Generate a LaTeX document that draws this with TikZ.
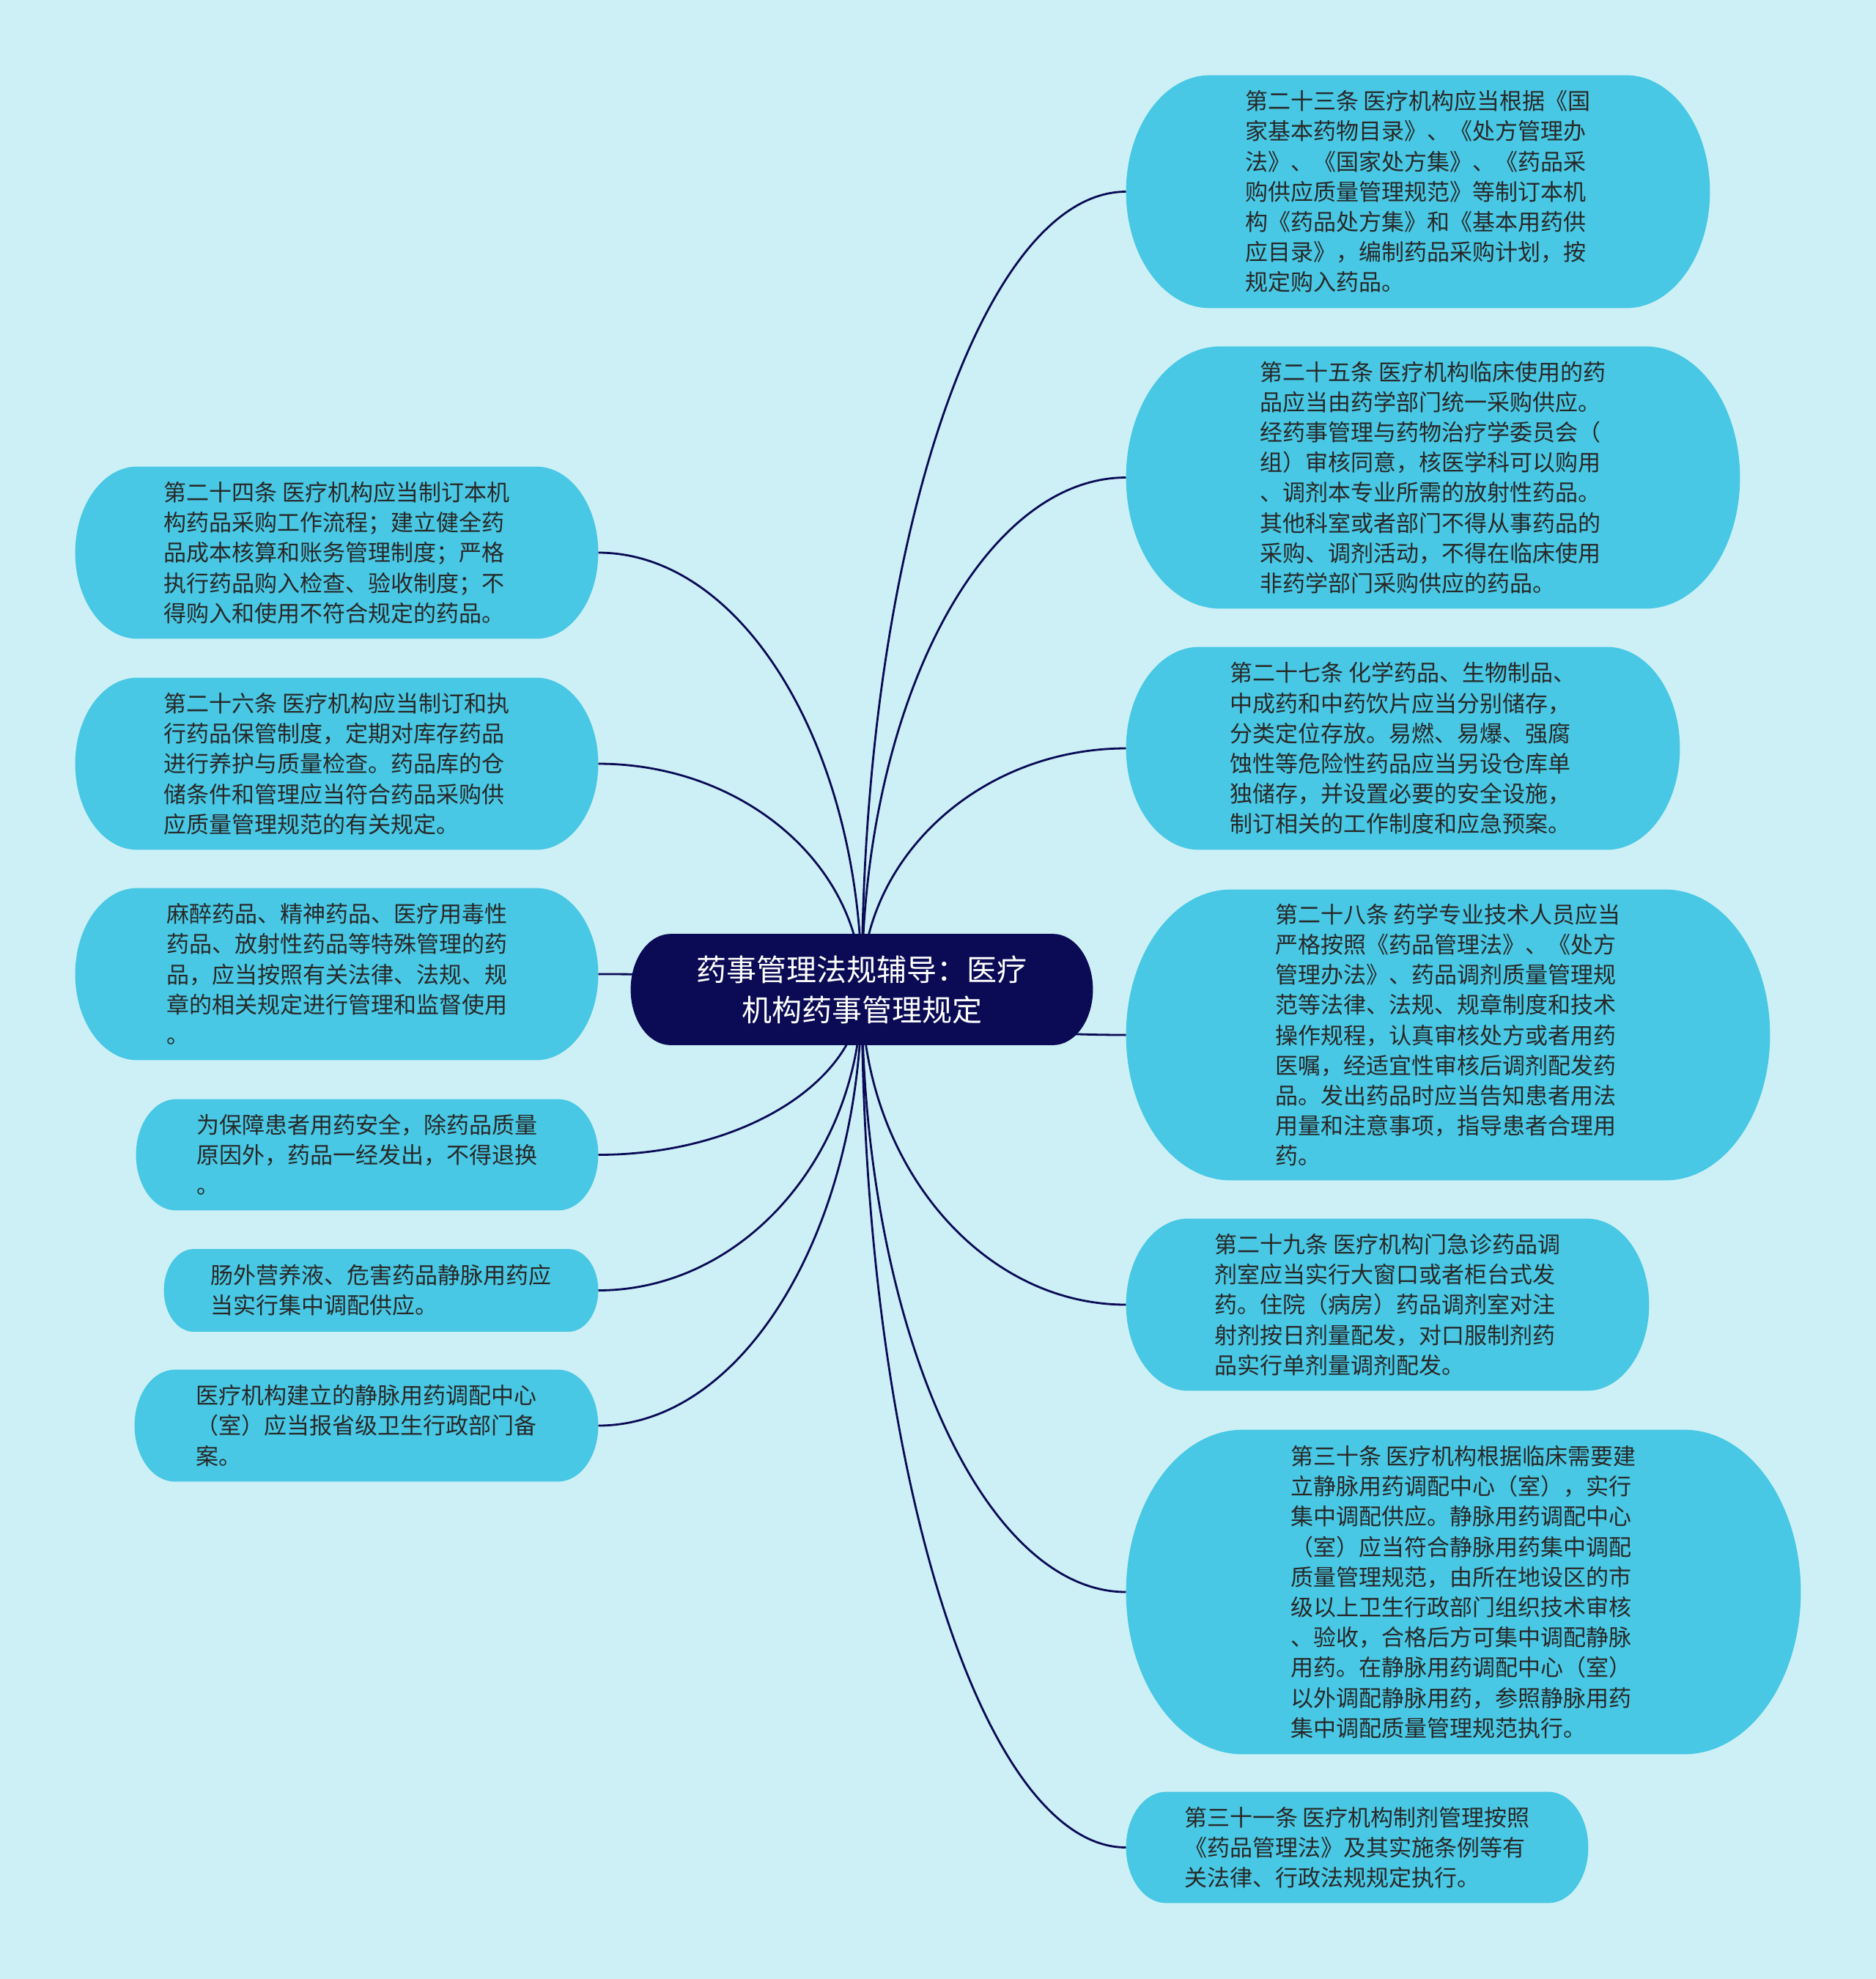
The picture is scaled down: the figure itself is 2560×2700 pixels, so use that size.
\documentclass[tikz,border=0pt]{standalone}
\usepackage{fontspec}
\setmainfont{Noto Sans CJK SC}
\usepackage{tikz}
\usetikzlibrary{calc}
\definecolor{PaperCyan}{RGB}{205,240,247}
\definecolor{LeafCyan}{RGB}{72,200,228}
\definecolor{HubNavy}{RGB}{10,10,85}
\definecolor{InkGray}{RGB}{40,40,40}
\pgfdeclarelayer{bg}
\pgfdeclarelayer{pills}
\pgfsetlayers{bg,pills,main}
% pill behind a node: straight top and bottom, half-ellipse ends
\newcommand\pillfill[2][LeafCyan]{%
  \fill[#1] let \p1=(#2.north west), \p2=(#2.south east),
    \n1={0.5*(\y1-\y2)}, \n2={0.36*(\y1-\y2)} in
    (\x2-\n2,\y1) arc[start angle=90,end angle=-90,x radius=\n2,y radius=\n1]
    -- (\x1+\n2,\y2) arc[start angle=270,end angle=90,x radius=\n2,y radius=\n1]
    -- cycle;}

\begin{document}
\begin{tikzpicture}[
        x=0.5pt,y=-0.5pt,
        leaf/.style={text=InkGray,align=left,inner sep=2pt,
          font=\fontsize{15.5pt}{20.6pt}\selectfont},
        hub/.style={text=white,align=center,inner sep=2pt,
          font=\fontsize{20.5pt}{27.5pt}\selectfont},
        link/.style={draw=HubNavy,line width=1.4pt}]
        \useasboundingbox (0,0) rectangle (2560,2700);
        \node[hub,minimum width=315pt,minimum height=75.5pt] (hub) at (1176,1350)
          {药事管理法规辅导：医疗\\机构药事管理规定};
        \node[leaf,minimum width=398pt,minimum height=158.5pt] (r1) at (1935,261.5)
          {第二十三条 医疗机构应当根据《国\\家基本药物目录》、《处方管理办\\法》、《国家处方集》、《药品采\\购供应质量管理规范》等制订本机\\构《药品处方集》和《基本用药供\\应目录》，编制药品采购计划，按\\规定购入药品。};
        \node[leaf,minimum width=418.5pt,minimum height=178.5pt] (r2) at (1955.5,651.5)
          {第二十五条 医疗机构临床使用的药\\品应当由药学部门统一采购供应。\\经药事管理与药物治疗学委员会（\\组）审核同意，核医学科可以购用\\、调剂本专业所需的放射性药品。\\其他科室或者部门不得从事药品的\\采购、调剂活动，不得在临床使用\\非药学部门采购供应的药品。};
        \node[leaf,minimum width=377.5pt,minimum height=138pt] (r3) at (1914.5,1021)
          {第二十七条 化学药品、生物制品、\\中成药和中药饮片应当分别储存，\\分类定位存放。易燃、易爆、强腐\\蚀性等危险性药品应当另设仓库单\\独储存，并设置必要的安全设施，\\制订相关的工作制度和应急预案。};
        \node[leaf,minimum width=439pt,minimum height=198pt] (r4) at (1976,1412)
          {第二十八条 药学专业技术人员应当\\严格按照《药品管理法》、《处方\\管理办法》、药品调剂质量管理规\\范等法律、法规、规章制度和技术\\操作规程，认真审核处方或者用药\\医嘱，经适宜性审核后调剂配发药\\品。发出药品时应当告知患者用法\\用量和注意事项，指导患者合理用\\药。};
        \node[leaf,minimum width=356.5pt,minimum height=117pt] (r5) at (1893.5,1780)
          {第二十九条 医疗机构门急诊药品调\\剂室应当实行大窗口或者柜台式发\\药。住院（病房）药品调剂室对注\\射剂按日剂量配发，对口服制剂药\\品实行单剂量调剂配发。};
        \node[leaf,minimum width=460pt,minimum height=221pt] (r6) at (1997,2172)
          {第三十条 医疗机构根据临床需要建\\立静脉用药调配中心（室），实行\\集中调配供应。静脉用药调配中心\\（室）应当符合静脉用药集中调配\\质量管理规范，由所在地设区的市\\级以上卫生行政部门组织技术审核\\、验收，合格后方可集中调配静脉\\用药。在静脉用药调配中心（室）\\以外调配静脉用药，参照静脉用药\\集中调配质量管理规范执行。};
        \node[leaf,minimum width=315pt,minimum height=75.5pt] (r7) at (1852,2520.5)
          {第三十一条 医疗机构制剂管理按照\\《药品管理法》及其实施条例等有\\关法律、行政法规规定执行。};
        \node[leaf,minimum width=356.5pt,minimum height=117pt] (l1) at (459.5,754)
          {第二十四条 医疗机构应当制订本机\\构药品采购工作流程；建立健全药\\品成本核算和账务管理制度；严格\\执行药品购入检查、验收制度；不\\得购入和使用不符合规定的药品。};
        \node[leaf,minimum width=356.5pt,minimum height=117pt] (l2) at (459.5,1042)
          {第二十六条 医疗机构应当制订和执\\行药品保管制度，定期对库存药品\\进行养护与质量检查。药品库的仓\\储条件和管理应当符合药品采购供\\应质量管理规范的有关规定。};
        \node[leaf,minimum width=356.5pt,minimum height=117pt] (l3) at (459.5,1329)
          {麻醉药品、精神药品、医疗用毒性\\药品、放射性药品等特殊管理的药\\品，应当按照有关法律、法规、规\\章的相关规定进行管理和监督使用\\。};
        \node[leaf,minimum width=315pt,minimum height=75.5pt] (l4) at (501,1575.5)
          {为保障患者用药安全，除药品质量\\原因外，药品一经发出，不得退换\\。};
        \node[leaf,minimum width=296pt,minimum height=56pt] (l5) at (520,1760.5)
          {肠外营养液、危害药品静脉用药应\\当实行集中调配供应。};
        \node[leaf,minimum width=316pt,minimum height=76pt] (l6) at (500,1945)
          {医疗机构建立的静脉用药调配中心\\（室）应当报省级卫生行政部门备\\案。};
        \begin{pgfonlayer}{pills}
          \pillfill[HubNavy]{hub}
          \foreach \k in {r1,r2,r3,r4,r5,r6,r7,l1,l2,l3,l4,l5,l6}
            \pillfill{\k};
        \end{pgfonlayer}
        \begin{pgfonlayer}{bg}
          \fill[PaperCyan] (0,0) rectangle (2560,2700);
          \foreach \k/\a in {r1/west,r2/west,r3/west,r4/west,r5/west,r6/west,r7/west,
              l1/east,l2/east,l3/east,l4/east,l5/east,l6/east}
            \draw[link] (hub.center)
              .. controls ($(hub.center)!0.55!(hub.center|-\k.\a)$)
              and ($(\k.\a)!0.55!(hub.center|-\k.\a)$) .. (\k.\a);
        \end{pgfonlayer}
      \end{tikzpicture}
\end{document}
